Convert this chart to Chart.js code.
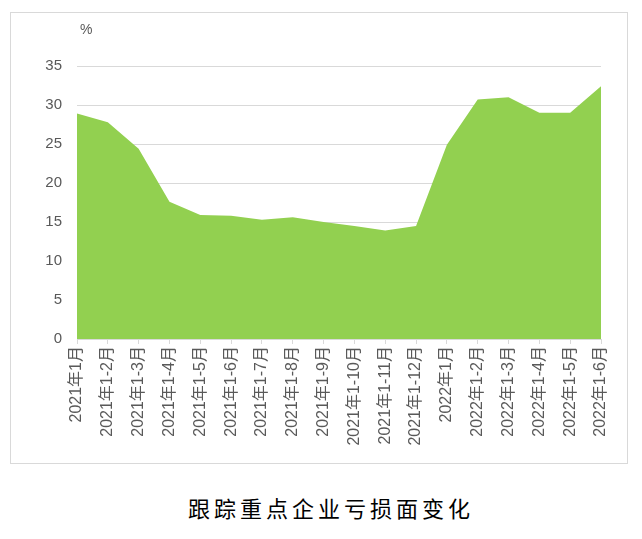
<!DOCTYPE html>
<html>
<head>
<meta charset="utf-8">
<script src="https://cdn.jsdelivr.net/npm/chart.js@4.4.0/dist/chart.umd.min.js"></script>
<style>
  body { margin: 0; background: #fff; width: 642px; height: 539px; position: relative; }
  #box { position: absolute; left: 10px; top: 12px; width: 616px; height: 450px; border: 1px solid #d9d9d9; }
  #title { position: absolute; left: 10px; width: 642px; top: 491px; text-align: center;
    font-family: "Noto Sans CJK SC", sans-serif; font-size: 22px; letter-spacing: 4px; color: #000; }
</style>
</head>
<body>
<div id="box"><canvas id="myChart" width="616" height="450"></canvas></div>
<div id="title">跟踪重点企业亏损面变化</div>
<script>
// months shown on the x axis
var months = ['2021年1月', '2021年1-2月', '2021年1-3月', '2021年1-4月', '2021年1-5月', '2021年1-6月',
  '2021年1-7月', '2021年1-8月', '2021年1-9月', '2021年1-10月', '2021年1-11月', '2021年1-12月',
  '2022年1月', '2022年1-2月', '2022年1-3月', '2022年1-4月', '2022年1-5月', '2022年1-6月'];
// share of key firms making a loss, %
var lossShare = [28.9, 27.8, 24.4, 17.6, 15.9, 15.8, 15.3, 15.6, 15.0, 14.5, 13.9, 14.5,
  24.9, 30.7, 31.0, 29.0, 29.0, 32.4];
var yTicks = [0, 5, 10, 15, 20, 25, 30, 35];

var fam = '"Liberation Sans", "Noto Sans CJK SC", sans-serif';

// little "%" above the value axis
var unitLabel = {
  id: 'unitLabel',
  afterDraw: function (chart) {
    var c = chart.ctx, y = chart.scales.y;
    c.save();
    c.fillStyle = '#595959';
    c.font = '14px "Liberation Sans", sans-serif';
    c.textAlign = 'left';
    c.textBaseline = 'middle';
    c.fillText('%', y.right + 3, y.top - 36);
    c.restore();
  }
};

var ctx = document.getElementById('myChart').getContext('2d');
var mychart = new Chart(ctx, {
  type: 'line',
  data: {
    labels: months,
    datasets: [{
      label: '亏损面',
      data: lossShare,
      backgroundColor: 'rgb(146, 208, 80)',
      borderWidth: 0,
      pointRadius: 0,
      fill: 'origin',
      tension: 0
    }]
  },
  options: {
    responsive: false,
    animation: false,
    layout: { padding: { left: 0, right: 26, top: 53, bottom: 0 } },
    plugins: { legend: { display: false }, tooltip: { enabled: false } },
    scales: {
      x: {
        offset: false,
        grid: { drawOnChartArea: false, drawTicks: true, tickLength: 5, color: '#d9d9d9' },
        border: { color: '#d9d9d9' },
        ticks: { color: '#595959', font: { family: fam, size: 16 }, minRotation: 90, maxRotation: 90, autoSkip: false, padding: 2 },
        afterFit: function (s) { s.height = 124; }
      },
      y: {
        min: 0, max: 35,
        afterBuildTicks: function (s) { s.ticks = yTicks.map(function (v) { return { value: v }; }); },
        grid: { color: '#d9d9d9', drawTicks: false },
        border: { display: false },
        ticks: { color: '#595959', font: { family: fam, size: 15 }, padding: 15 },
        afterFit: function (s) { s.width = 66; }
      }
    }
  },
  plugins: [unitLabel]
});
</script>
</body>
</html>
